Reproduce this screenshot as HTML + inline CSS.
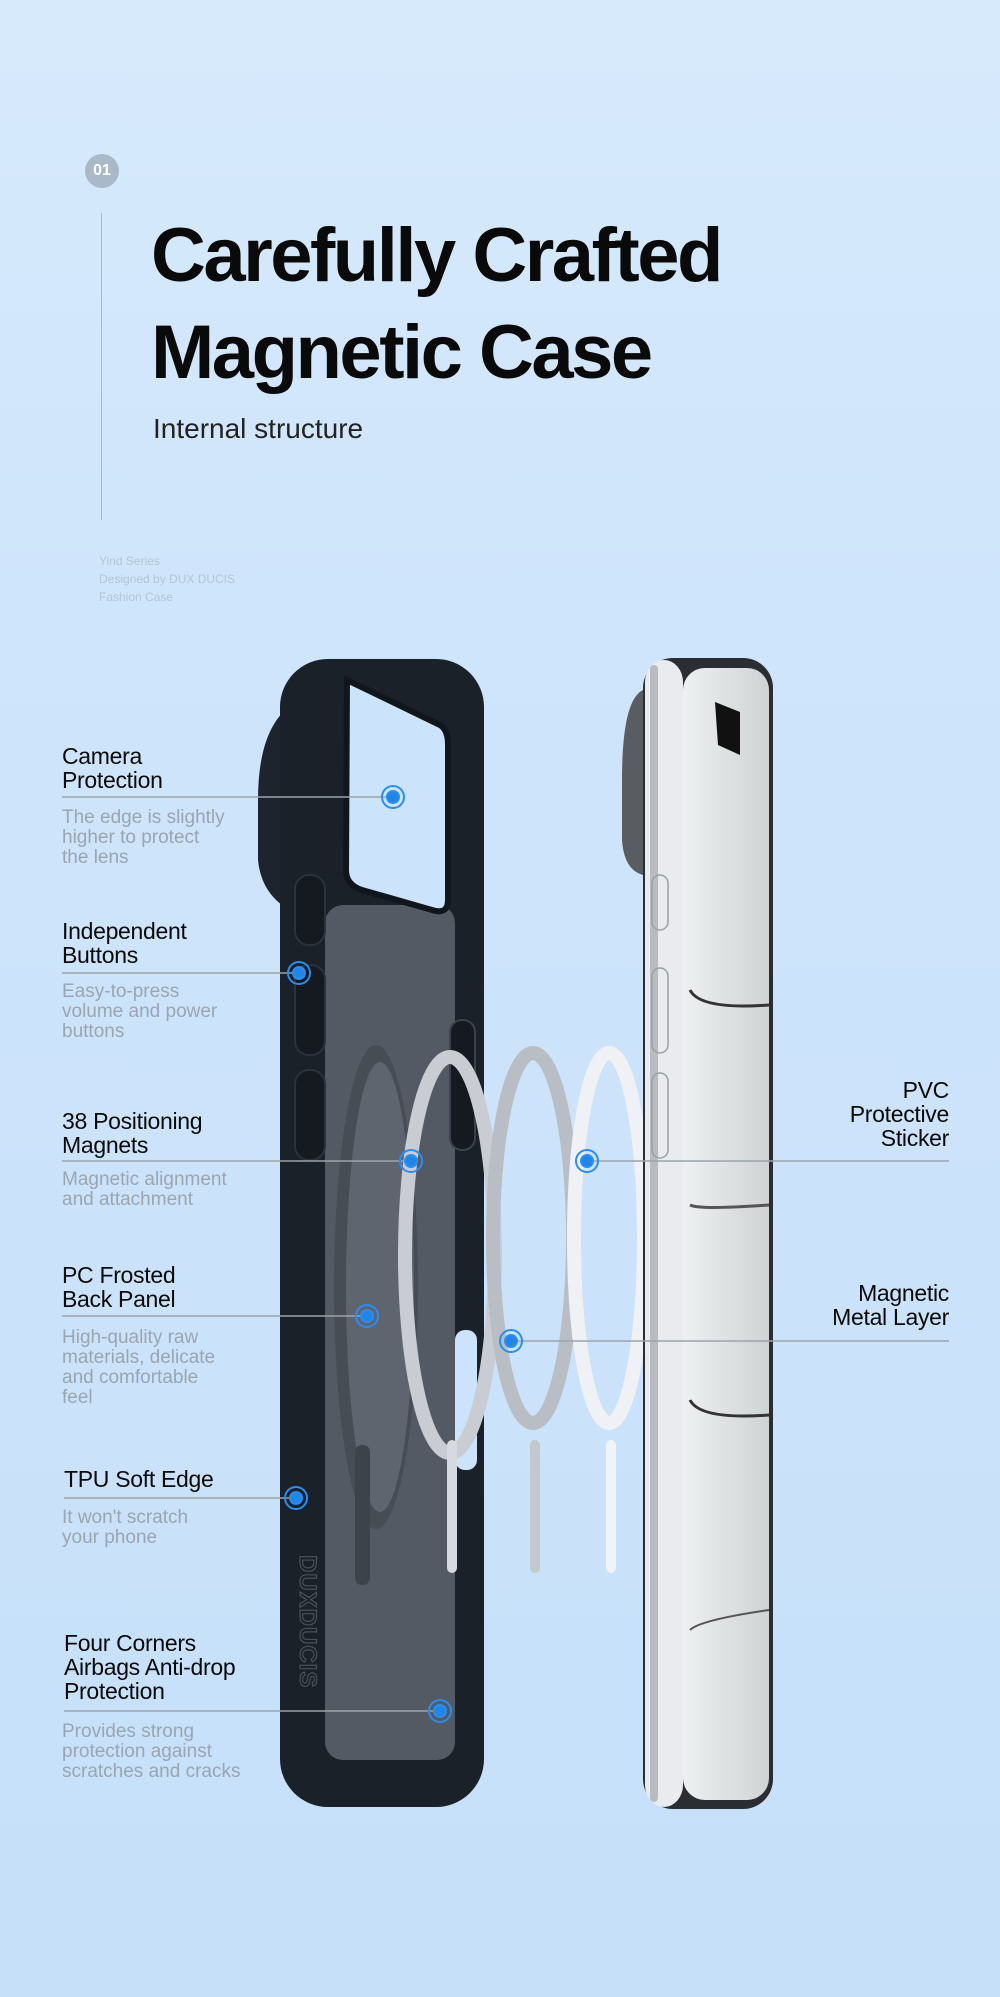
<!DOCTYPE html>
<html><head><meta charset="utf-8"><style>
html,body{margin:0;padding:0}
body{width:1000px;height:1997px;position:relative;overflow:hidden;background:linear-gradient(180deg,#d7eafc 0%,#cfe5fb 30%,#c6e0fa 100%);font-family:"Liberation Sans",sans-serif}
.t{position:absolute;white-space:nowrap}
.h{font-size:23px;color:#0a0a0a;line-height:24px;letter-spacing:-0.3px}
.d{font-size:19px;color:#9ba5b0;line-height:20px}
.r{text-align:right}
</style></head><body>
<div class="t" style="left:85px;top:154px;width:34px;height:34px;border-radius:50%;background:#aab9c7;color:#fff;font-weight:bold;font-size:16px;line-height:34px;text-align:center">01</div>
<div style="position:absolute;left:101px;top:213px;width:1px;height:307px;background:#a9bccc"></div>
<div class="t" style="left:151px;top:207px;font-size:76px;font-weight:bold;letter-spacing:-2.5px;line-height:97px;color:#0a0a0a">Carefully Crafted<br>Magnetic Case</div>
<div class="t" style="left:153px;top:413px;font-size:28px;color:#222">Internal structure</div>
<div class="t" style="left:99px;top:552px;font-size:12px;line-height:18px;color:#b3c5d6">Yind Series<br>Designed by DUX DUCIS<br>Fashion Case</div>

<svg style="position:absolute;left:0;top:0" width="1000" height="1997">
<defs><linearGradient id="sc" x1="0" x2="1"><stop offset="0" stop-color="#eef0f1"/><stop offset="1" stop-color="#cfd3d3"/></linearGradient></defs>
<path d="M300 700 Q258 720 258 800 L258 860 Q262 900 300 915 Z" fill="#1e242d"/>
<rect x="280" y="659" width="204" height="1148" rx="48" fill="#1b2129"/>
<rect x="325" y="905" width="130" height="855" rx="18" fill="#545a63"/>
<path d="M347 680 L440 725 Q448 730 448 745 L448 900 Q448 915 432 910 L362 890 Q346 885 346 870 Z" fill="#cbe3fb" stroke="#11161c" stroke-width="6"/>
<ellipse cx="376" cy="1287" rx="42" ry="242" fill="#474d55"/>
<ellipse cx="380" cy="1287" rx="34" ry="225" fill="#5f656e"/>
<rect x="355" y="1445" width="15" height="140" rx="7" fill="#3d434b"/>
<rect x="295" y="875" width="30" height="70" rx="14" fill="#151a20" stroke="#2b323b" stroke-width="2"/>
<rect x="295" y="965" width="30" height="90" rx="14" fill="#151a20" stroke="#2b323b" stroke-width="2"/>
<rect x="295" y="1070" width="30" height="90" rx="14" fill="#151a20" stroke="#2b323b" stroke-width="2"/>
<rect x="450" y="1020" width="25" height="130" rx="12" fill="#151a20" stroke="#3b424b" stroke-width="2"/>
<rect x="455" y="1330" width="22" height="140" rx="10" fill="#cbe3fb"/>
<text x="300" y="1555" transform="rotate(90 300 1555)" font-family="Liberation Sans" font-weight="bold" font-size="24" fill="none" stroke="#4a5058" stroke-width="1.2" letter-spacing="1">DUXDUCIS</text>
<ellipse cx="450" cy="1255" rx="45" ry="198" fill="none" stroke="#c9cdd3" stroke-width="14"/>
<ellipse cx="533" cy="1238" rx="40" ry="185" fill="none" stroke="#b9bec4" stroke-width="14"/>
<ellipse cx="609" cy="1238" rx="35" ry="185" fill="none" stroke="#eff1f4" stroke-width="14"/>
<rect x="447" y="1440" width="10" height="133" rx="5" fill="#d6d9dd"/>
<rect x="530" y="1440" width="10" height="133" rx="5" fill="#c4c8cd"/>
<rect x="606" y="1440" width="10" height="133" rx="5" fill="#f2f3f5"/>
<path d="M643 690 Q622 700 622 780 L622 840 Q624 870 643 875 Z" fill="#595d62"/>
<rect x="643" y="658" width="130" height="1151" rx="30" fill="#2a2d31"/>
<rect x="645" y="660" width="38" height="1147" rx="22" fill="#e9ebee"/>
<rect x="650" y="665" width="8" height="1137" rx="4" fill="#b8bcc1"/>
<rect x="683" y="668" width="86" height="1132" rx="22" fill="url(#sc)"/>
<path d="M715 702 L740 712 L740 755 L718 745 Z" fill="#111"/>
<path d="M690 990 Q700 1010 769 1005" stroke="#333" stroke-width="3" fill="none"/>
<path d="M690 1205 Q700 1210 769 1205" stroke="#555" stroke-width="3" fill="none"/>
<path d="M690 1400 Q700 1420 769 1415" stroke="#333" stroke-width="3" fill="none"/>
<path d="M690 1630 Q700 1620 769 1610" stroke="#555" stroke-width="2" fill="none"/>
<rect x="652" y="875" width="16" height="55" rx="8" fill="none" stroke="#9aa0a6" stroke-width="1.5"/>
<rect x="652" y="968" width="16" height="85" rx="8" fill="none" stroke="#9aa0a6" stroke-width="1.5"/>
<rect x="652" y="1073" width="16" height="85" rx="8" fill="none" stroke="#9aa0a6" stroke-width="1.5"/>
<g stroke="#9ba3ab" stroke-width="1.5">
<line x1="62" y1="797" x2="393" y2="797"/>
<line x1="62" y1="973" x2="299" y2="973"/>
<line x1="62" y1="1161" x2="411" y2="1161"/>
<line x1="62" y1="1316" x2="367" y2="1316"/>
<line x1="64" y1="1498" x2="296" y2="1498"/>
<line x1="64" y1="1711" x2="440" y2="1711"/>
<line x1="587" y1="1161" x2="949" y2="1161"/>
<line x1="511" y1="1341" x2="949" y2="1341"/>
</g>
<g fill="#1f86e6" stroke="#2a8df0" stroke-width="2">
<circle cx="393" cy="797" r="6"/><circle cx="393" cy="797" r="11" fill="none"/>
<circle cx="299" cy="973" r="6"/><circle cx="299" cy="973" r="11" fill="none"/>
<circle cx="411" cy="1161" r="6"/><circle cx="411" cy="1161" r="11" fill="none"/>
<circle cx="367" cy="1316" r="6"/><circle cx="367" cy="1316" r="11" fill="none"/>
<circle cx="296" cy="1498" r="6"/><circle cx="296" cy="1498" r="11" fill="none"/>
<circle cx="440" cy="1711" r="6"/><circle cx="440" cy="1711" r="11" fill="none"/>
<circle cx="587" cy="1161" r="6"/><circle cx="587" cy="1161" r="11" fill="none"/>
<circle cx="511" cy="1341" r="6"/><circle cx="511" cy="1341" r="11" fill="none"/>
</g>
</svg>

<div class="t h" style="left:62px;top:744px">Camera<br>Protection</div>
<div class="t d" style="left:62px;top:808px">The edge is slightly<br>higher to protect<br>the lens</div>
<div class="t h" style="left:62px;top:919px">Independent<br>Buttons</div>
<div class="t d" style="left:62px;top:982px">Easy-to-press<br>volume and power<br>buttons</div>
<div class="t h" style="left:62px;top:1109px">38 Positioning<br>Magnets</div>
<div class="t d" style="left:62px;top:1170px">Magnetic alignment<br>and attachment</div>
<div class="t h" style="left:62px;top:1263px">PC Frosted<br>Back Panel</div>
<div class="t d" style="left:62px;top:1328px">High-quality raw<br>materials, delicate<br>and comfortable<br>feel</div>
<div class="t h" style="left:64px;top:1467px">TPU Soft Edge</div>
<div class="t d" style="left:62px;top:1508px">It won't scratch<br>your phone</div>
<div class="t h" style="left:64px;top:1631px">Four Corners<br>Airbags Anti-drop<br>Protection</div>
<div class="t d" style="left:62px;top:1722px">Provides strong<br>protection against<br>scratches and cracks</div>
<div class="t h r" style="right:51px;top:1078px">PVC <br>Protective<br>Sticker</div>
<div class="t h r" style="right:51px;top:1281px">Magnetic<br>Metal Layer</div>
</body></html>
